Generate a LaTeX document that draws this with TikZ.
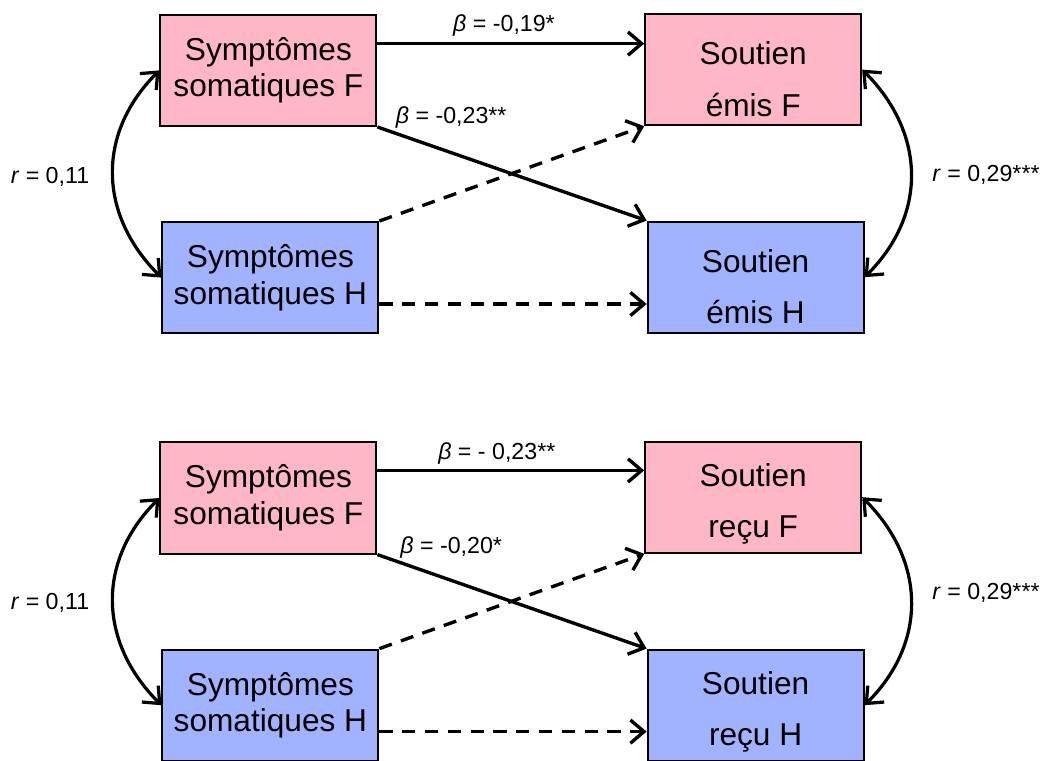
\documentclass[tikz,border=0pt]{standalone}
\usepackage{fontspec}
\setmainfont{Liberation Sans}
\usetikzlibrary{arrows.meta}
\definecolor{rose}{RGB}{255,182,198}
\definecolor{bleu}{RGB}{161,179,255}

\begin{document}
\begin{tikzpicture}[line join=miter,
  box/.style={draw,line width=1.4pt,minimum width=5.4cm,minimum height=2.78cm,inner sep=0pt,align=center,font=\fontsize{22.5}{26}\selectfont},
  boxtext/.style={align=center,inner sep=0pt,font=\fontsize{22.5}{26}\selectfont},
  coef/.style={inner sep=0pt,font=\fontsize{16.5}{19}\selectfont},
  link/.style={line width=2.4pt,-{Straight Barb[length=3.4mm,width=5.8mm]}},
  nolink/.style={link,dash pattern=on 3.3mm off 2.4mm},
  corr/.style={line width=2.3pt,{Straight Barb[length=3.4mm,width=5.8mm]}-{Straight Barb[length=3.4mm,width=5.8mm]}}]
  \useasboundingbox (0,0) rectangle (26.125,-19.025);
  % soutien emis
  \node[box,fill=rose] (sF1) at (6.71,-1.76) {Symptômes\\somatiques F};
  \node[box,fill=bleu] (sH1) at (6.76,-6.94) {Symptômes\\somatiques H};
  \node[box,fill=rose] (eF1) at (18.83,-1.74) {};
  \node[box,fill=bleu] (eH1) at (18.89,-6.93) {};
  \node[boxtext] (eF1t) at ([yshift=-0.24cm]eF1.center) {Soutien\\[0.37cm]émis F};
  \node[boxtext] (eH1t) at ([yshift=-0.24cm]eH1.center) {Soutien\\[0.37cm]émis H};
  \draw[link] ([yshift=0.67cm]sF1.east) -- ([yshift=0.67cm]sF1.east -| eF1.west);
  \draw[link] (sF1.south east) -- (eH1.north west);
  \draw[nolink] (sH1.north east) -- (eF1.south west);
  \draw[nolink] ([yshift=-0.66cm]sH1.east) -- ([yshift=-0.66cm]sH1.east -| eH1.west);
  \draw[corr] (sF1.west) to[out=225,in=135,looseness=1.1] (sH1.west);
  \draw[corr] (eF1.east) to[out=-45,in=45,looseness=1.1] (eH1.east);
  \node[coef] (b1) at (12.6,-0.65) {\textit{β} = -0,19*};
  \node[coef] (b2) at (11.28,-2.93) {\textit{β} = -0,23**};
  \node[coef] (r1) at (1.25,-4.42) {\textit{r} = 0,11};
  \node[coef] (r2) at (24.65,-4.38) {\textit{r} = 0,29***};
  % soutien recu
  \node[box,fill=rose] (sF2) at (6.71,-12.45) {Symptômes\\somatiques F};
  \node[box,fill=bleu] (sH2) at (6.76,-17.63) {Symptômes\\somatiques H};
  \node[box,fill=rose] (eF2) at (18.83,-12.43) {};
  \node[box,fill=bleu] (eH2) at (18.89,-17.63) {};
  \node[boxtext] (eF2t) at ([yshift=-0.17cm]eF2.center) {Soutien\\[0.37cm]reçu F};
  \node[boxtext] (eH2t) at ([yshift=-0.17cm]eH2.center) {Soutien\\[0.37cm]reçu H};
  \draw[link] ([yshift=0.69cm]sF2.east) -- ([yshift=0.69cm]sF2.east -| eF2.west);
  \draw[link] (sF2.south east) -- (eH2.north west);
  \draw[nolink] (sH2.north east) -- (eF2.south west);
  \draw[nolink] ([yshift=-0.66cm]sH2.east) -- ([yshift=-0.66cm]sH2.east -| eH2.west);
  \draw[corr] (sF2.west) to[out=225,in=135,looseness=1.1] (sH2.west);
  \draw[corr] (eF2.east) to[out=-45,in=45,looseness=1.1] (eH2.east);
  \node[coef] (b3) at (12.42,-11.33) {\textit{β} = - 0,23**};
  \node[coef] (b4) at (11.28,-13.68) {\textit{β} = -0,20*};
  \node[coef] (r3) at (1.25,-15.07) {\textit{r} = 0,11};
  \node[coef] (r4) at (24.65,-14.83) {\textit{r} = 0,29***};
\end{tikzpicture}
\end{document}
